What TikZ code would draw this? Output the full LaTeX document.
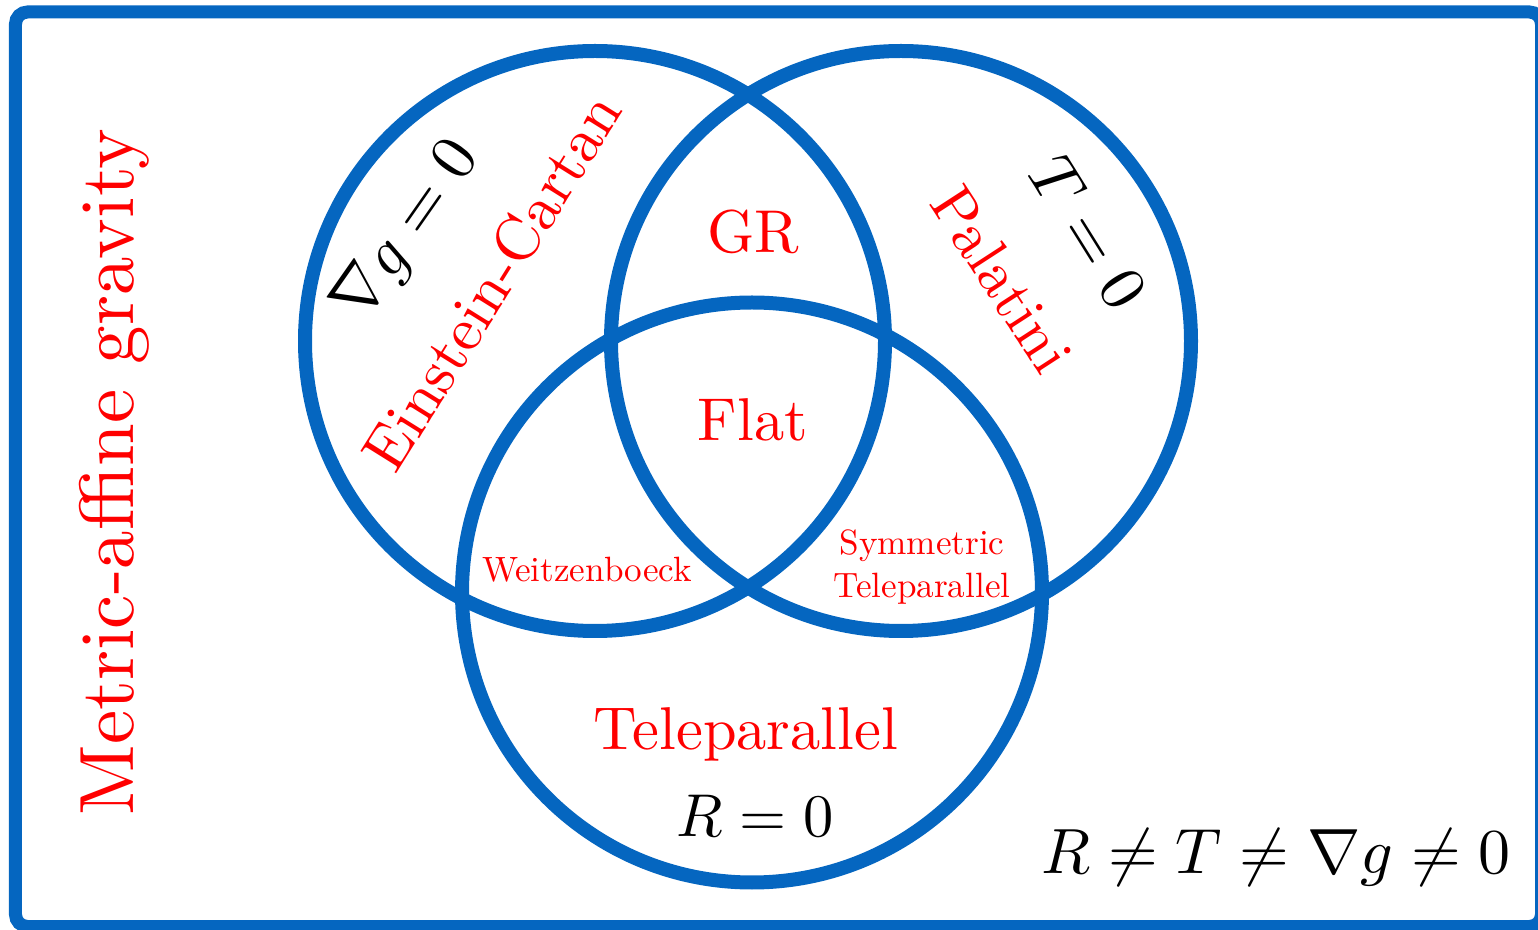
\documentclass[tikz,border=0pt]{standalone}
\usepackage{amsmath,amssymb}
\usetikzlibrary{positioning}
\definecolor{venn}{RGB}{5,102,192}
\tikzset{
  circ/.style={draw=venn,line width=1.4mm},
  frame/.style={draw=venn,line width=1.3mm,rounded corners=1.2mm},
  theory/.style={text=red,inner sep=0pt,scale=#1},
  theory/.default=1.72,
  subtheory/.style={text=red,inner sep=0pt,align=center},
  cond/.style={inner sep=0pt,scale=#1},
  cond/.default=1.72,
}
\begin{document}
\begin{tikzpicture}[font=\fontsize{10}{12.5}\selectfont]
  \useasboundingbox (0,0) rectangle (15.38,9.29);
  \draw[frame] (0.155,0.025) rectangle (15.415,9.17);
  % the three circles
  \coordinate (L) at (5.95,5.88);
  \coordinate (Rt) at (9.01,5.88);
  \coordinate (B) at (7.52,3.365);
  \draw[circ] (L) circle (2.9);
  \draw[circ] (Rt) circle (2.9);
  \draw[circ] (B) circle (2.9);
  % labels
  \node[theory=2.19,rotate=90] (mag) at (1.14,4.57) {Metric-affine gravity};
  \node[theory] (gr) at (7.53,6.97) {GR};
  \node[theory] (flat) at (7.53,5.09) {Flat};
  \node[theory] (tele) at (7.46,1.95) {Teleparallel};
  \node[theory=1.76,rotate=58] (ec) at (4.92,6.47) {Einstein-Cartan};
  \node[theory,rotate=-57] (pal) at (10.02,6.50) {Palatini};
  \node[subtheory] (weitz) at (5.87,3.59) {Weitzenboeck};
  \node[subtheory] (symtele) at (9.22,3.62) {Symmetric\\Teleparallel};
  \node[cond=1.85,rotate=55] (nonmet) at (4.08,6.97) {$\nabla g=0$};
  \node[cond=1.85,rotate=-58] (tors) at (10.89,6.97) {$T=0$};
  \node[cond] (curv) at (7.55,1.13) {$R=0$};
  \node[cond=1.82] (gen) at (12.76,0.71) {$R\neq T\neq\nabla g\neq 0$};
\end{tikzpicture}
\end{document}
